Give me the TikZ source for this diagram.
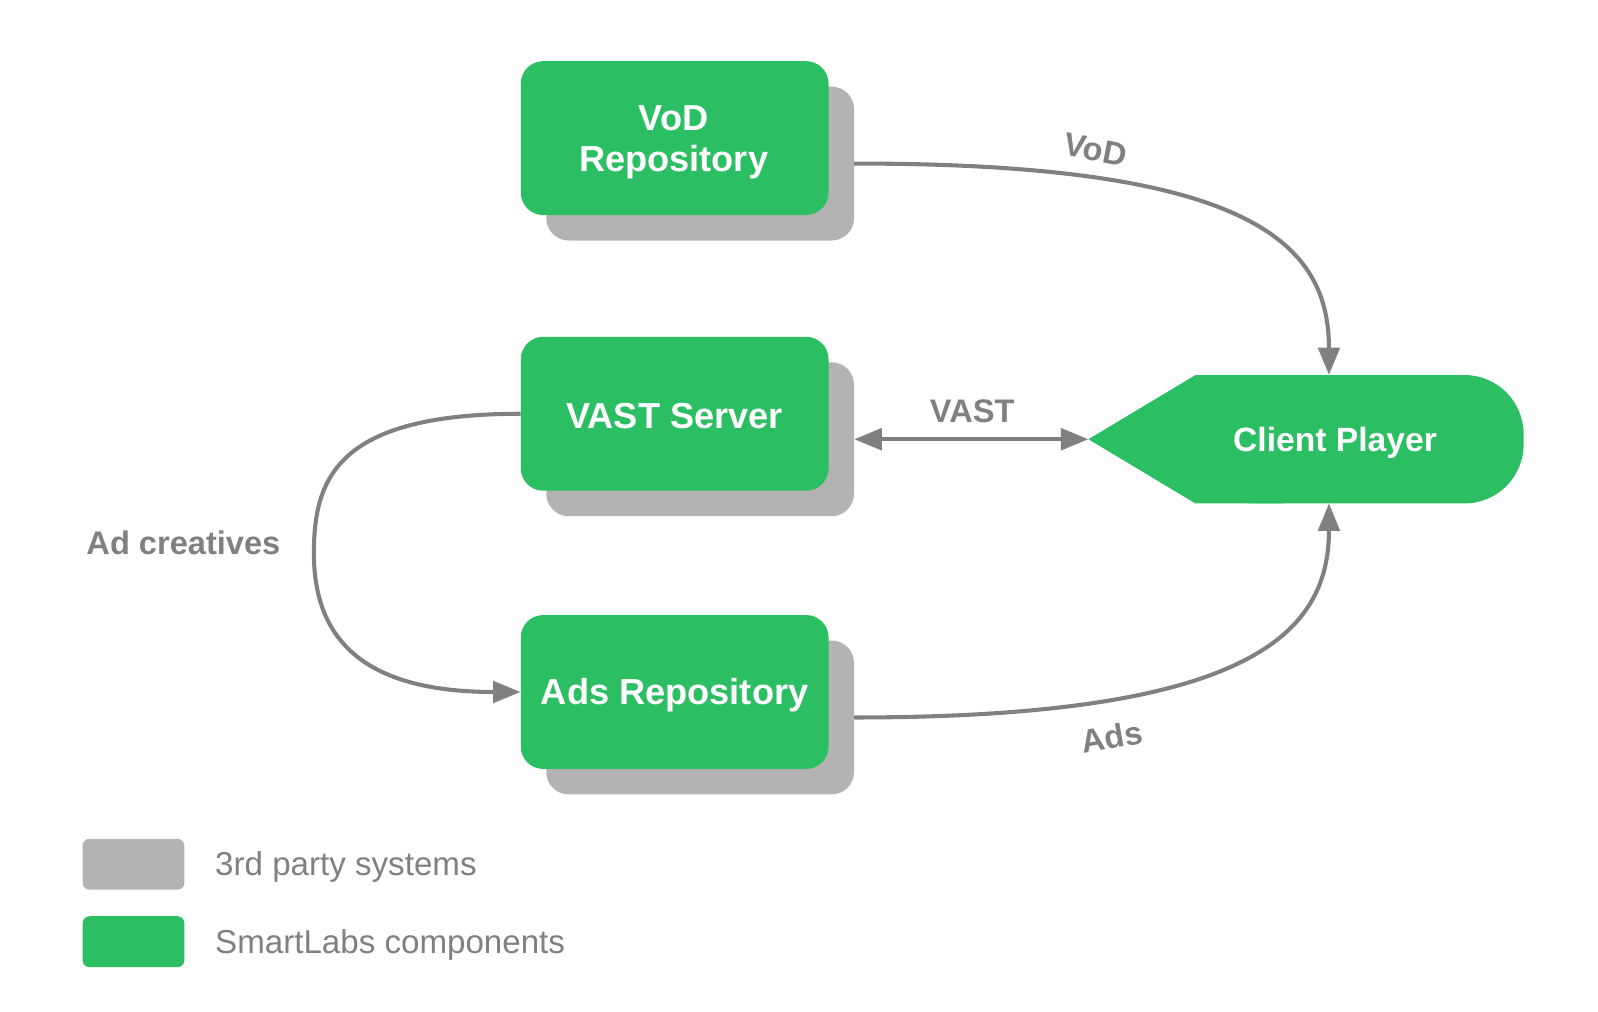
\documentclass[tikz,border=0pt]{standalone}
\usepackage{fontspec}
\setmainfont{Liberation Sans}
\usetikzlibrary{arrows.meta}
\definecolor{slgreen}{HTML}{2BBE62}
\definecolor{shgray}{HTML}{B3B3B3}
\definecolor{lngray}{HTML}{808080}
\tikzset{
  greenbox/.style={fill=slgreen, rounded corners=22pt, minimum width=302pt, minimum height=151pt, inner sep=0pt},
  boxtext/.style={text=white, font=\bfseries\fontsize{35.5}{40}\selectfont, align=center, inner sep=0pt},
  shadowbox/.style={fill=shgray, rounded corners=22pt, minimum width=302pt, minimum height=151pt, inner sep=0pt},
  conn/.style={draw=lngray, line width=4pt, -{Triangle[length=27pt,width=21pt]}},
  connlabel/.style={text=lngray, font=\bfseries\fontsize{32}{36}\selectfont, inner sep=0pt},
  legendbox/.style={rounded corners=7pt, minimum width=100pt, minimum height=50pt, inner sep=0pt},
  legendtext/.style={text=lngray, font=\fontsize{32.5}{36}\selectfont, anchor=west, inner sep=0pt}
}
\begin{document}
\begin{tikzpicture}[x=1pt, y=-1pt]
\useasboundingbox (0,0) rectangle (1568,993);
% shadows
\node[shadowbox] (vodsh) at (687,160.5) {};
\node[shadowbox] (vastsh) at (687,431) {};
\node[shadowbox] (adssh) at (687,704) {};
% green boxes
\node[greenbox] (vod) at (662,135.5) {};
\node[greenbox] (vast) at (662,406) {};
\node[greenbox] (ads) at (662,679) {};
\node[boxtext] (vodt) at ([xshift=-1pt,yshift=-4pt]vod.center) {VoD\\Repository};
\node[boxtext] (vastt) at ([yshift=-2pt]vast.center) {VAST Server};
\node[boxtext] (adst) at ([yshift=-3pt]ads.center) {Ads Repository};
% client player
\fill[slgreen, rounded corners=58pt] (1173,368) rectangle (1495,494);
\fill[slgreen] (1068,431) -- (1173,368) -- (1260,368) -- (1260,494) -- (1173,494) -- cycle;
\node[text=white, font=\bfseries\fontsize{33}{38}\selectfont, inner sep=0pt] (client) at (1310,434) {Client Player};
\coordinate (cptip) at (1068,431);
\coordinate (cptop) at (1304,368);
\coordinate (cpbot) at (1304,494);
% connectors
\draw[conn] (vodsh.east) .. controls (1230,160) and (1304,240) .. (cptop);
\node[connlabel, rotate=-11] (vodlbl) at (1075,147) {VoD};
\draw[conn, {Triangle[length=27pt,width=21pt]}-{Triangle[length=27pt,width=21pt]}] (vastsh.east) -- (cptip);
\node[connlabel] (vastlbl) at (954,404) {VAST};
\draw[conn] (adssh.east) .. controls (1230,704) and (1304,620) .. (cpbot);
\node[connlabel, rotate=10] (adslbl) at (1091,723) {Ads};
\draw[conn] (vast.west) .. controls (330,406) and (308,470) .. (308,543) .. controls (308,630) and (360,679) .. (ads.west);
\node[connlabel] (adcr) at (180,533) {Ad creatives};
% legend
\node[legendbox, fill=shgray] (leg1) at (131,848) {};
\node[legendtext] (leg1t) at (211,851) {3rd party systems};
\node[legendbox, fill=slgreen] (leg2) at (131,924) {};
\node[legendtext] (leg2t) at (211,927) {SmartLabs components};
\end{tikzpicture}
\end{document}
